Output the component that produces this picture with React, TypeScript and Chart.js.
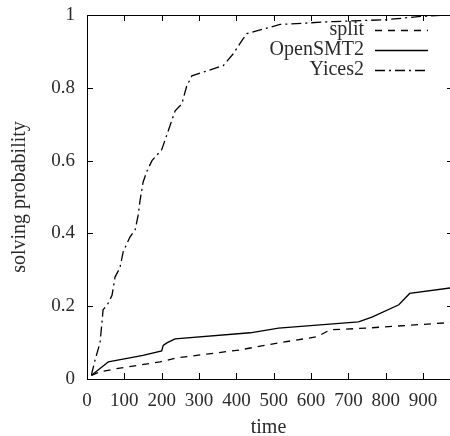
import React, { useEffect, useRef } from "react";
import { Chart, registerables } from "chart.js";

Chart.register(...registerables);

const X_MAX = 972;
const xTickValues = [0, 100, 200, 300, 400, 500, 600, 700, 800, 900];
const yTickValues = [0, 0.2, 0.4, 0.6, 0.8, 1];
const yTickLabels = ["0", "0.2", "0.4", "0.6", "0.8", "1"];

const seriesNames = ["split", "OpenSMT2", "Yices2"];

const splitTime = [12, 35, 88, 196, 241, 410, 517, 616, 651, 751, 972];
const splitProb = [0.01, 0.02, 0.03, 0.047, 0.058, 0.08, 0.1, 0.116, 0.135, 0.14, 0.155];

const openTime = [12, 45, 57, 100, 150, 200, 204, 215, 236, 437, 513, 727, 763, 835, 864, 972];
const openProb = [0.01, 0.037, 0.047, 0.055, 0.065, 0.077, 0.092, 0.1, 0.11, 0.127, 0.14, 0.157, 0.17, 0.204, 0.235, 0.25];

const yicesTime = [12, 13, 21, 35, 40, 43, 55, 67, 75, 88, 97, 115, 129, 137, 142, 150, 160, 174, 200, 222, 236, 254, 267, 281, 365, 392, 415, 428, 517, 660, 800, 893, 972];
const yicesProb = [0.01, 0.016, 0.05, 0.1, 0.155, 0.19, 0.205, 0.23, 0.28, 0.305, 0.35, 0.39, 0.41, 0.45, 0.49, 0.54, 0.57, 0.6, 0.63, 0.695, 0.737, 0.756, 0.805, 0.833, 0.861, 0.894, 0.93, 0.949, 0.974, 0.982, 0.987, 0.996, 1];

const FONT = "'Liberation Serif', 'Times New Roman', serif";
const TEXT_COLOR = "#2a2a2a";

const dashes = [[7, 6], [], [10, 4, 2, 4]];

const framePlugin = {
  id: "frame",
  afterDraw(chart: any) {
    const { ctx, chartArea } = chart;
    const { left, right, top, bottom } = chartArea;
    const xs = chart.scales.x;
    const ys = chart.scales.y;
    const tl = 6;
    ctx.save();
    ctx.strokeStyle = "#000";
    ctx.lineWidth = 1;
    ctx.setLineDash([]);
    ctx.beginPath();
    ctx.moveTo(left + 0.5, top);
    ctx.lineTo(left + 0.5, bottom + 0.5);
    ctx.lineTo(right, bottom + 0.5);
    ctx.moveTo(left, top + 0.5);
    ctx.lineTo(right, top + 0.5);
    for (const v of xTickValues) {
      const px = Math.round(xs.getPixelForValue(v)) + 0.5;
      ctx.moveTo(px, bottom);
      ctx.lineTo(px, bottom - tl);
      ctx.moveTo(px, top);
      ctx.lineTo(px, top + tl);
    }
    for (const v of yTickValues) {
      const py = Math.round(ys.getPixelForValue(v)) + 0.5;
      ctx.moveTo(left, py);
      ctx.lineTo(left + tl, py);
      ctx.moveTo(right + 3, py);
      ctx.lineTo(right - 3, py);
    }
    ctx.stroke();
    ctx.restore();
  },
};

const legendPlugin = {
  id: "gpLegend",
  afterDraw(chart: any) {
    const { ctx } = chart;
    const textRight = 364;
    const lineStart = 375;
    const lineEnd = 428;
    const rows = [30, 50, 70];
    ctx.save();
    ctx.font = `20px ${FONT}`;
    ctx.textAlign = "right";
    ctx.textBaseline = "middle";
    chart.data.datasets.forEach((ds: any, i: number) => {
      const y = rows[i];
      ctx.fillStyle = TEXT_COLOR;
      ctx.fillText(ds.label, textRight, y);
      ctx.strokeStyle = "#000";
      ctx.lineWidth = ds.borderWidth;
      ctx.setLineDash(ds.borderDash || []);
      ctx.beginPath();
      ctx.moveTo(lineStart, y + 0.5);
      ctx.lineTo(lineEnd, y + 0.5);
      ctx.stroke();
    });
    ctx.restore();
  },
};

function toPoints(t: number[], p: number[]) {
  return t.map((x, i) => ({ x, y: p[i] }));
}

export default function App() {
  const ref = useRef<HTMLCanvasElement>(null);
  useEffect(() => {
    document.body.style.margin = "0";
    const canvas = ref.current;
    if (!canvas) return;
    const seriesData = [
      toPoints(splitTime, splitProb),
      toPoints(openTime, openProb),
      toPoints(yicesTime, yicesProb),
    ];
    const chart = new Chart(canvas, {
      type: "scatter",
      data: {
        datasets: seriesNames.map((name, i) => ({
          label: name,
          data: seriesData[i],
          showLine: true,
          borderColor: "#000",
          backgroundColor: "#000",
          borderWidth: 1.3,
          borderDash: dashes[i],
          pointRadius: 0,
          fill: false,
          tension: 0,
        })),
      },
      options: {
        responsive: false,
        animation: false,
        layout: { padding: { top: 15, right: 0, left: 0, bottom: 0 } },
        plugins: {
          legend: { display: false },
          tooltip: { enabled: false },
        },
        scales: {
          x: {
            type: "linear",
            min: 0,
            max: X_MAX,
            border: { display: false },
            grid: { display: false, drawTicks: false },
            afterBuildTicks: (s: any) => {
              s.ticks = xTickValues.map((v) => ({ value: v }));
            },
            afterFit: (s: any) => {
              s.height = 57;
              s.paddingLeft = 0;
              s.paddingRight = 0;
            },
            ticks: {
              autoSkip: false,
              maxRotation: 0,
              padding: 11,
              color: TEXT_COLOR,
              font: { family: FONT, size: 19 },
              callback: (v: any) => String(v),
            },
            title: {
              display: true,
              text: "time",
              color: TEXT_COLOR,
              font: { family: FONT, size: 20, lineHeight: 0.8 },
              padding: { top: 0, bottom: 0 },
            },
          },
          y: {
            type: "linear",
            min: 0,
            max: 1,
            border: { display: false },
            grid: { display: false, drawTicks: false },
            afterBuildTicks: (s: any) => {
              s.ticks = yTickValues.map((v) => ({ value: v }));
            },
            afterFit: (s: any) => {
              s.width = 87;
              s.paddingTop = 0;
              s.paddingBottom = 0;
            },
            ticks: {
              autoSkip: false,
              padding: 12,
              color: TEXT_COLOR,
              font: { family: FONT, size: 19 },
              callback: (v: any) => {
                const idx = yTickValues.indexOf(v);
                return idx >= 0 ? yTickLabels[idx] : "";
              },
            },
            title: {
              display: true,
              text: "solving probability",
              color: TEXT_COLOR,
              font: { family: FONT, size: 20, lineHeight: 1.2 },
              padding: { top: 8, bottom: 0 },
            },
          },
        },
      },
      plugins: [framePlugin, legendPlugin],
    });
    return () => chart.destroy();
  }, []);
  return <canvas ref={ref} width={450} height={436} style={{ display: "block" }} />;
}
